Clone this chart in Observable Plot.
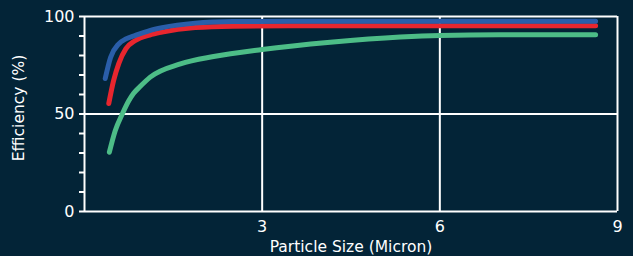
<!DOCTYPE html>
<html>
<head>
<meta charset="utf-8">
<script src="https://cdn.jsdelivr.net/npm/d3@7"></script>
<script src="https://cdn.jsdelivr.net/npm/@observablehq/plot@0.6"></script>
<style>
  html, body { margin: 0; padding: 0; background: #032437; }
</style>
</head>
<body>
<div id="chart"></div>
<script>
// Series data (particle size in micron -> efficiency %)
const blueX  = [0.35, 0.44, 0.58, 0.70, 0.86, 1.10, 1.31, 1.87, 2.50, 3.50, 5.00, 7.00, 8.63];
const blueY  = [68.2, 79.0, 86.0, 88.5, 90.3, 92.8, 94.3, 96.6, 97.4, 97.6, 97.6, 97.6, 97.6];
const redX   = [0.41, 0.49, 0.58, 0.70, 0.86, 1.10, 1.31, 1.87, 2.50, 3.50, 5.00, 7.00, 8.63];
const redY   = [55.4, 67.0, 76.0, 83.5, 87.7, 90.5, 92.0, 94.3, 95.0, 95.2, 95.2, 95.2, 95.2];
const greenX = [0.42, 0.52, 0.64, 0.75, 0.83, 0.93, 1.11, 1.62, 2.18, 3.00, 4.15, 5.33, 6.00, 7.00, 8.63];
const greenY = [30.4, 41.5, 50.1, 56.9, 60.6, 63.8, 68.9, 75.7, 79.5, 83.1, 86.8, 89.5, 90.3, 90.6, 90.6];

const seriesNames = ["S3", "S2", "S1"];
const seriesColors = ["#4dbd87", "#e8262e", "#2a5ea9"];

const xTicks = [3, 6, 9];
const yTicks = [0, 10, 20, 30, 40, 50, 60, 70, 80, 90, 100];
const yLabeled = [0, 50, 100];
const gridX = [0, 3, 6, 9];
const gridY = [0, 50, 100];

const xLabel = "Particle Size (Micron)";
const yLabel = "Efficiency (%)";

const data = [];
greenX.forEach((x, i) => data.push({series: "S3", x, y: greenY[i]}));
redX.forEach((x, i) => data.push({series: "S2", x, y: redY[i]}));
blueX.forEach((x, i) => data.push({series: "S1", x, y: blueY[i]}));

const chart = Plot.plot({
  width: 633,
  height: 256,
  marginTop: 16,
  marginBottom: 45,
  marginLeft: 84,
  marginRight: 16,
  style: {background: "#032437", color: "white", fontFamily: "DejaVu Sans", fontSize: "16px"},
  x: {domain: [0, 9]},
  y: {domain: [0, 100]},
  color: {domain: seriesNames, range: seriesColors},
  marks: [
    Plot.ruleY(gridY, {stroke: "white", strokeWidth: 2}),
    Plot.ruleX(gridX, {stroke: "white", strokeWidth: 2}),
    Plot.axisY(yTicks, {tickSize: 5, tickPadding: 5, strokeWidth: 2, stroke: "white", fill: "white",
      fontSize: 16, tickFormat: d => yLabeled.includes(d) ? String(d) : "", label: null}),
    Plot.axisX(xTicks, {tickSize: 0, tickPadding: 9, fill: "white", fontSize: 16, label: null}),
    Plot.line(data, {x: "x", y: "y", z: "series", stroke: "series", strokeWidth: 5,
      strokeLinecap: "round", strokeLinejoin: "round", curve: "monotone-x"}),
    Plot.text([yLabel], {frameAnchor: "left", dx: -65, dy: -6, rotate: -90, textAnchor: "middle",
      lineAnchor: "middle", fill: "white", fontSize: 15.5}),
    Plot.text([xLabel], {frameAnchor: "bottom", dy: 40, fill: "white", fontSize: 15.5})
  ]
});
document.getElementById("chart").appendChild(chart);
</script>
</body>
</html>
